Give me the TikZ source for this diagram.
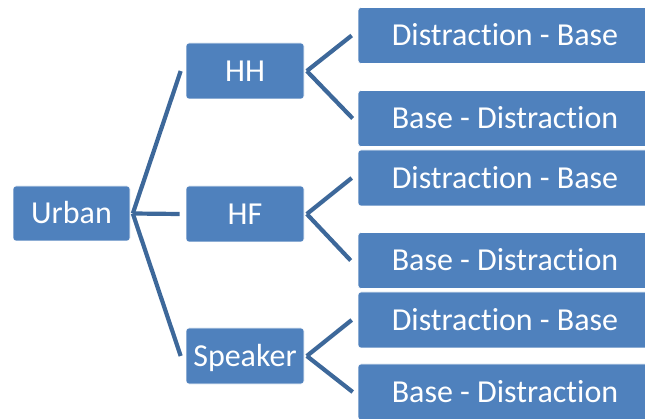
\documentclass[tikz,border=0pt]{standalone}
\usepackage{fontspec}
\setmainfont{Carlito}[Ligatures={NoCommon,NoContextual}]
\definecolor{boxblue}{HTML}{4F81BD}
\definecolor{linkblue}{HTML}{3D689A}
\begin{document}
\begin{tikzpicture}[x=1pt,y=-1pt,
  box/.style={rectangle, rounded corners=3pt, fill=boxblue, draw=white,
    line width=0.6pt, text=white, inner sep=0pt,
    font=\fontsize{32}{37}\selectfont, text height=20.5pt, text depth=0pt,
    minimum height=56pt},
  smallbox/.style={box, minimum width=118pt},
  wide/.style={box, minimum width=294pt},
  link/.style={draw=linkblue, line width=4.2pt, line cap=butt}]
\useasboundingbox (0,0) rectangle (645,419);

% root
\node[box, minimum width=117pt, minimum height=55pt] (urban) at (71.5,213.5) {Urban};

% second level
\node[smallbox] (hh) at (245,71) {HH};
\node[smallbox] (hf) at (245,214) {HF};
\node[smallbox] (spk) at (245,356) {Speaker};

% leaves
\node[wide] (db1) at (505,35.5) {Distraction - Base};
\node[wide] (bd1) at (505,118.5) {Base - Distraction};
\node[wide] (db2) at (505,178) {Distraction - Base};
\node[wide] (bd2) at (505,260.5) {Base - Distraction};
\node[wide] (db3) at (505,320) {Distraction - Base};
\node[wide] (bd3) at (505,392) {Base - Distraction};

% fork points just right of each parent
\coordinate (fu) at ([xshift=2.5pt]urban.east);
\coordinate (fhh) at ([xshift=2.5pt]hh.east);
\coordinate (fhf) at ([xshift=2.5pt]hf.east);
\coordinate (fspk) at ([xshift=2.5pt]spk.east);

% connectors
\draw[link] (fu) -- ([xshift=-5pt]hh.west);
\draw[link] (fu) -- ([xshift=-6pt]hf.west);
\draw[link] (fu) -- ([xshift=-5pt]spk.west);

\draw[link] (fhh) -- ([xshift=-6pt]db1.west);
\draw[link] (fhh) -- ([xshift=-5pt]bd1.west);
\draw[link] (fhf) -- ([xshift=-6pt]db2.west);
\draw[link] (fhf) -- ([xshift=-7pt]bd2.west);
\draw[link] (fspk) -- ([xshift=-6pt]db3.west);
\draw[link] (fspk) -- ([xshift=-5pt]bd3.west);
\end{tikzpicture}
\end{document}
